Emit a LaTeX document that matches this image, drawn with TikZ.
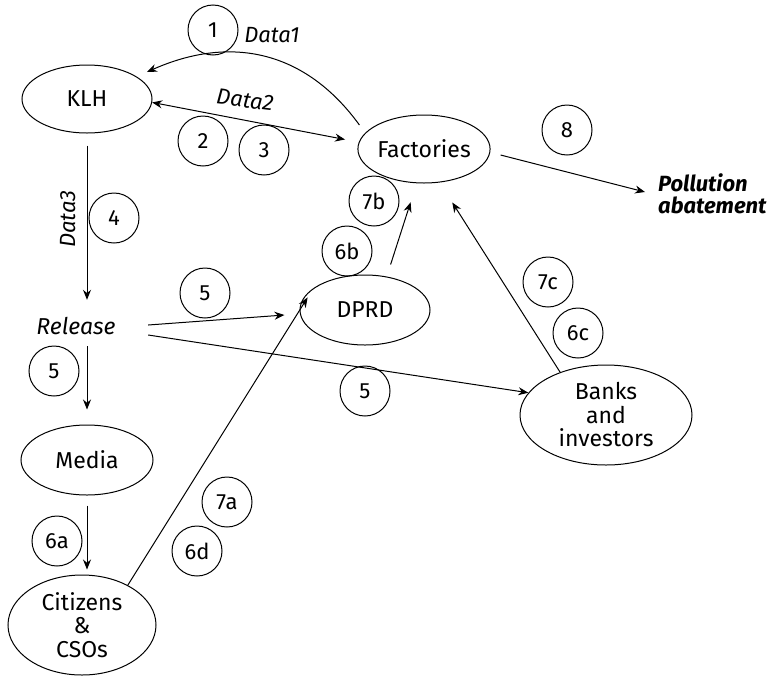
\documentclass[tikz,border=0pt]{standalone}
\usepackage{fontspec}
\setmainfont{Fira Sans}
\usetikzlibrary{arrows.meta,shapes.geometric}
\tikzset{
  ent/.style={draw, ellipse, line width=1pt, inner sep=0pt, align=center, font=\fontsize{23}{23.5}\selectfont},
  num/.style={draw, circle, line width=1pt, minimum size=50pt, inner sep=0pt, font=\fontsize{22}{24}\selectfont},
  lbl/.style={inner sep=0pt, font=\fontsize{22}{24}\selectfont\itshape},
  arr/.style={line width=1pt, -{Stealth[length=10pt,width=8pt]}},
  dblarr/.style={line width=1pt, {Stealth[length=10pt,width=8pt]}-{Stealth[length=10pt,width=8pt]}},
}
\begin{document}
\begin{tikzpicture}[x=1pt,y=-1pt]
\useasboundingbox (0,0) rectangle (773,675);
% entities
\node[ent, minimum width=130pt, minimum height=68pt] (klh) at (87,99) {KLH};
\node[ent, minimum width=132pt, minimum height=68pt] (factories) at (424,149) {Factories};
\node[ent, minimum width=130pt, minimum height=70pt] (dprd) at (365,310) {DPRD};
\node[ent, minimum width=172pt, minimum height=100pt] (banks) at (606,415) {Banks\\and\\investors};
\node[ent, minimum width=132pt, minimum height=70pt] (media) at (87,460) {Media};
\node[ent, minimum width=148pt, minimum height=100pt] (citizens) at (82,625) {Citizens\\\&\\CSOs};
\node[lbl, font=\fontsize{23}{24}\selectfont\itshape, minimum width=80pt, minimum height=40pt] (release) at (76,326) {Release};
\node[lbl, anchor=west, align=left, font=\fontsize{22}{22}\selectfont\bfseries\itshape] (pollution) at (658,194) {Pollution\\abatement};
% data labels
\node[lbl] (d1) at (272,35) {Data1};
\node[lbl, rotate=-7] (d2) at (245,100) {Data2};
\node[lbl, rotate=90] (d3) at (68,219) {Data3};
% numbered circles
\node[num] (c1) at (213,30) {1};
\node[num] (c2) at (203,141) {2};
\node[num] (c3) at (264,150) {3};
\node[num] (c4) at (114,218) {4};
\node[num] (c8) at (567,130) {8};
\node[num] (c7b) at (374,201) {7b};
\node[num] (c6b) at (347,251) {6b};
\node[num] (c7c) at (548,282) {7c};
\node[num] (c6c) at (578,333) {6c};
\node[num] (c5a) at (205,293) {5};
\node[num] (c5b) at (54,371) {5};
\node[num] (c5c) at (365,391) {5};
\node[num] (c7a) at (227,502) {7a};
\node[num] (c6d) at (197,551) {6d};
\node[num] (c6a) at (57,541) {6a};
% connectors
\draw[arr] ([shift={(2,-24)}]factories.west) .. controls (305,50) and (230,35) .. ([shift={(60,-27)}]klh.center);
\draw[dblarr, shorten >=14pt] (klh.357) -- (factories.174.5);
\draw[arr, shorten <=12pt, shorten >=6pt] (klh.south) -- (klh.south |- release.north);
\draw[arr, shorten >=15pt] (media.north |- release.south) -- (media.north);
\draw[arr, shorten <=10pt, shorten >=5pt] (media.south) -- (media.south |- citizens.north);
\draw[arr] ([shift={(32,-1)}]release.east) -- ([shift={(-15,5)}]dprd.west);
\draw[arr] ([shift={(32,9)}]release.east) -- (banks.164);
\draw[arr, shorten >=11pt] (citizens.41.8) -- (dprd.157.7);
\draw[arr, shorten <=12.6pt, shorten >=19.9pt] (dprd.57.5) -- (factories.258.4);
\draw[arr, shorten >=23.6pt] (banks.137.5) -- (factories.295);
\draw[arr] ([shift={(10,6)}]factories.east) -- ([shift={(-13,-2)}]pollution.west);
\end{tikzpicture}
\end{document}
